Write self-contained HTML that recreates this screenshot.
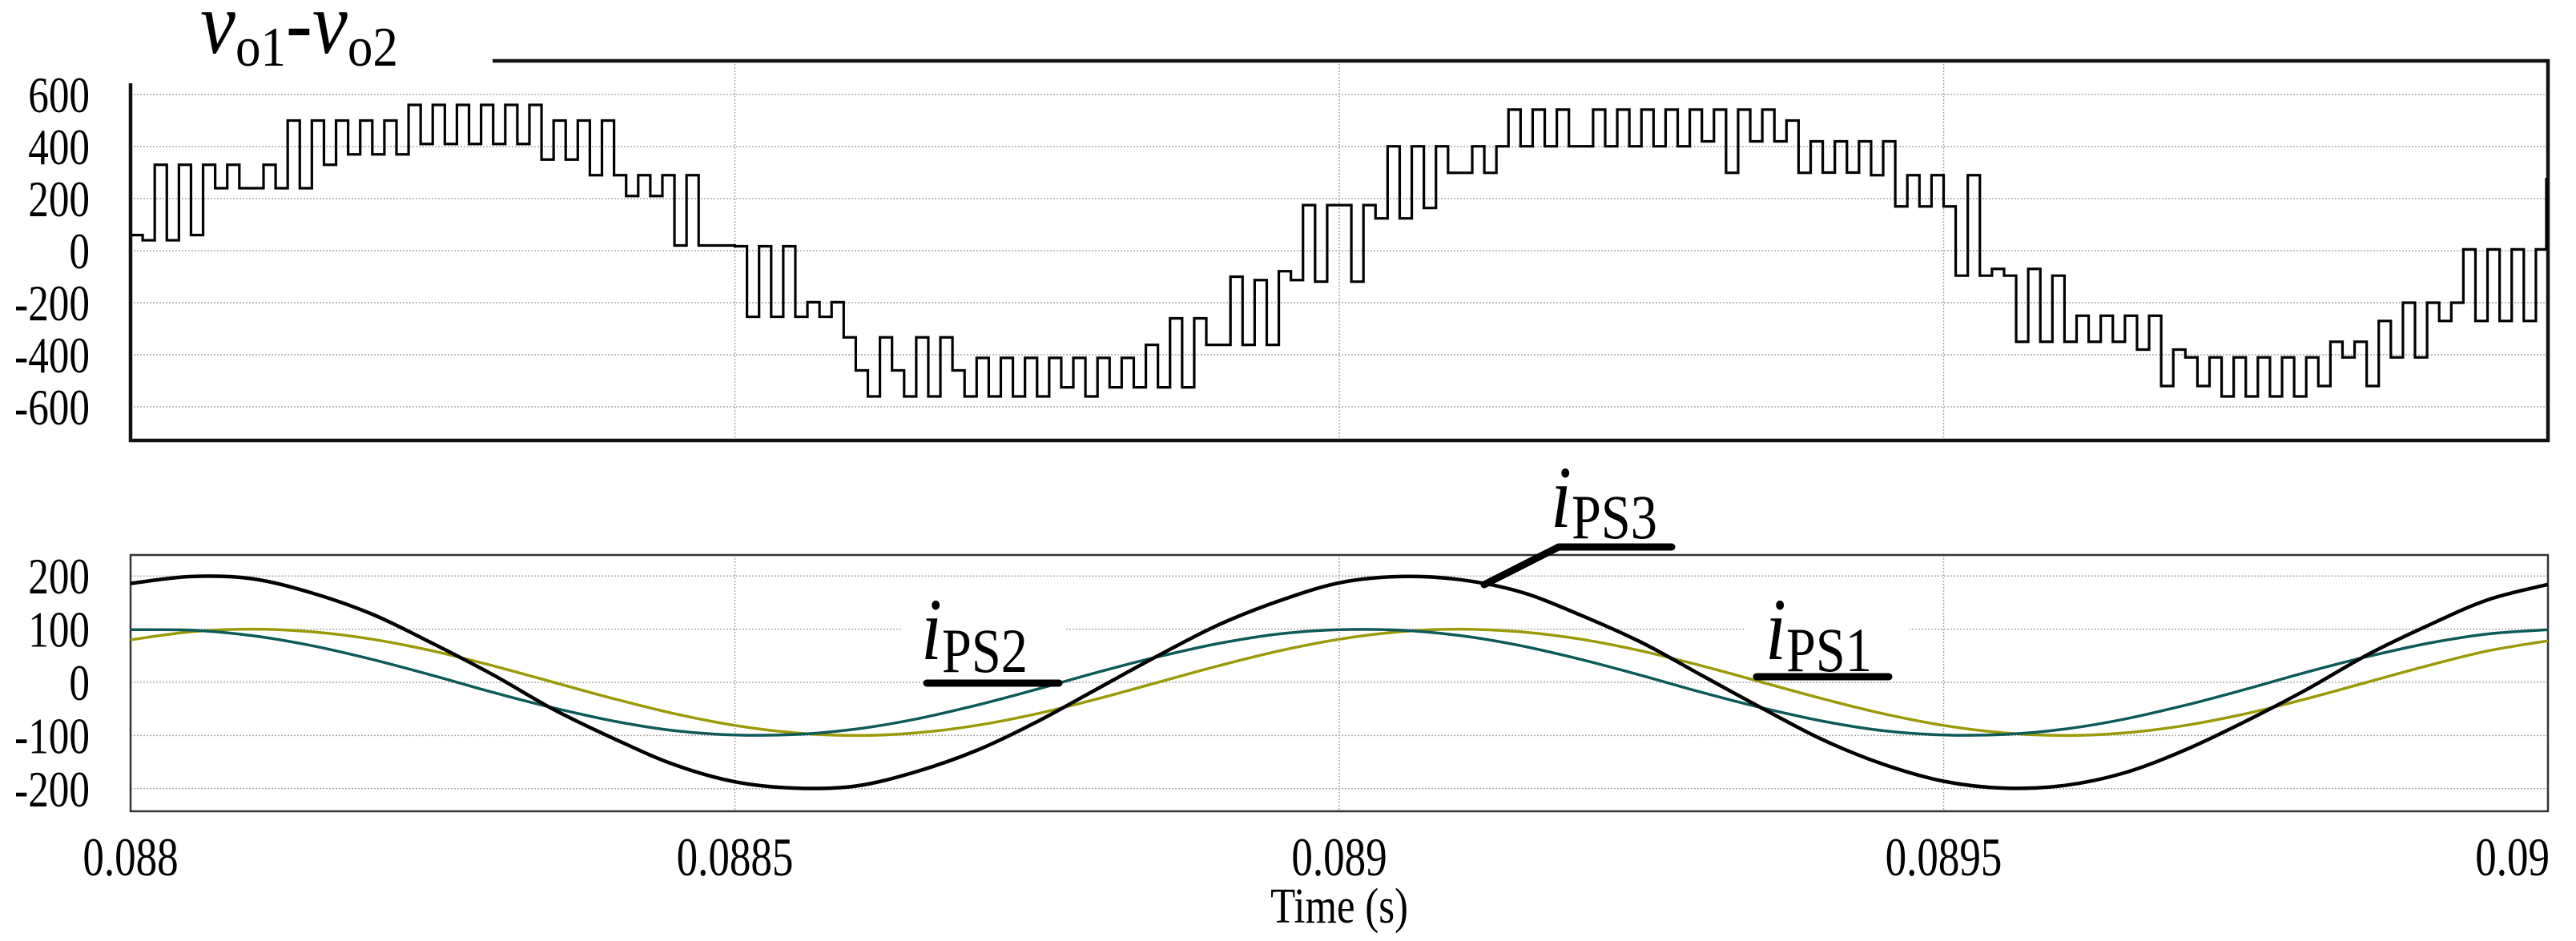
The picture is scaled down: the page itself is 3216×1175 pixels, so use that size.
<!DOCTYPE html>
<html><head><meta charset="utf-8"><style>
html,body{margin:0;padding:0;background:#fff;}
svg{display:block;font-family:"Liberation Serif",serif;}
</style></head><body>
<svg id="chart" width="3216" height="1175" viewBox="0 0 3216 1175" xmlns="http://www.w3.org/2000/svg">
<rect x="0" y="0" width="3216" height="1175" fill="#fff"/>
<g id="topPanel"></g>
<g id="botPanel"></g>
<g id="annPanel"></g>
</svg>
<script>
// ---- data ----
const tStart = 0.088, tEnd = 0.090;
const xTicks = [0.088, 0.0885, 0.089, 0.0895, 0.09];
const xTickLabels = ["0.088", "0.0885", "0.089", "0.0895", "0.09"];
const vTicks = [600, 400, 200, 0, -200, -400, -600];
const iTicks = [200, 100, 0, -100, -200];
// voltage step levels, one per 0.00001 s
const vStep = 0.00001;
const vLevels = [
60,40,330,40,330,60,330,240,330,240,
240,330,240,500,240,500,330,500,370,500,
370,500,370,560,410,560,410,560,410,560,
410,560,410,560,350,500,350,500,290,500,
290,210,290,210,290,20,290,20,20,20,
17,-254,17,-254,17,-254,-198,-254,-198,-333,
-460,-560,-333,-460,-560,-333,-560,-333,-460,-560,
-412,-560,-412,-560,-412,-560,-412,-525,-412,-560,
-412,-525,-412,-525,-362,-525,-260,-525,-260,-362,
-362,-100,-362,-113,-362,-79,-113,175,-119,175,
175,-119,175,124,401,124,401,164,401,299,
299,401,299,401,542,401,542,401,542,401,
401,542,401,542,401,542,401,542,401,542,
420,542,299,542,420,542,420,500,299,420,
300,420,300,420,290,420,170,290,170,290,
170,-96,290,-96,-70,-96,-350,-70,-350,-96,
-350,-250,-350,-250,-350,-250,-380,-250,-520,-380,
-410,-520,-410,-560,-410,-560,-410,-560,-410,-560,
-410,-520,-350,-410,-350,-520,-270,-410,-200,-410,
-200,-270,-200,5,-270,5,-270,5,-270,5,
280];
// currents sampled every 0.00005 s
const iStep = 0.00005;
const iPS3 = [186,199,195,168,128,73,14,-51,-106,-155,-187,-199,-195,-168,-128,-74,-12,50,108,153,187,199,193,170,126,75,13,-49,-108,-154,-186,-199,-194,-170,-127,-73,-14,51,106,155,184];
const iPS2 = [99,98,88,69,43,13,-19,-48,-73,-91,-99,-98,-88,-69,-43,-13,19,48,73,91,99,98,88,69,43,13,-19,-48,-73,-91,-99,-98,-88,-69,-43,-13,19,48,73,91,99];
const iPS1 = [80,95,100,95,81,59,31,0,-31,-59,-81,-95,-100,-95,-81,-59,-31,0,31,59,81,95,100,95,81,59,31,0,-31,-59,-81,-95,-100,-95,-81,-59,-31,0,31,59,78];

// ---- layout ----
const X0 = 163, X1 = 3181;
const xs = t => X0 + (t - tStart) / (tEnd - tStart) * (X1 - X0);
const yv = v => 313 - v * (195 / 600);
const yi = v => 852 - v * 0.664;
const NS = "http://www.w3.org/2000/svg";
function mk(tag, parent, attrs) {
  const e = document.createElementNS(NS, tag);
  for (const k in attrs) e.setAttribute(k, attrs[k]);
  parent.appendChild(e); return e;
}
function txt(parent, x, y, size, anchor, sx) {
  return mk('text', parent, {x: 0, y: 0, 'font-size': size, 'text-anchor': anchor, transform: `translate(${x} ${y}) scale(${sx} 1)`});
}
const topG = document.getElementById('topPanel'), botG = document.getElementById('botPanel'), annG = document.getElementById('annPanel');

// top grid
vTicks.forEach(v => {
  const l = mk('line', topG, {x1: X0, x2: X1, y1: yv(v), y2: yv(v), stroke: '#aaa', 'stroke-width': 1.5, 'stroke-dasharray': '2,2'});
  
  
  const tx = txt(topG, 112, yv(v) + 22, 64, 'end', 0.8);
  tx.textContent = v;
  
  
});
xTicks.slice(1, 4).forEach(t => {
  const l = mk('line', topG, {x1: xs(t), x2: xs(t), y1: 80, y2: 548, stroke: '#aaa', 'stroke-width': 1.5, 'stroke-dasharray': '2,2'});
  
  
  const l2 = mk('line', botG, {x1: xs(t), x2: xs(t), y1: 693, y2: 1013, stroke: '#aaa', 'stroke-width': 1.5, 'stroke-dasharray': '2,2'});
  
  
});
// top frame
let f = mk('path', topG, {d: `M615 76 H${X1} V550 H${X0} V104`, fill: 'none', stroke: '#111', 'stroke-width': 4.5});


// voltage waveform
let d = '';
vLevels.forEach((v, k) => {
  const x = xs(tStart + k * vStep), y = yv(v);
  d += (k === 0 ? `M${x} ${y}` : ` V${y}`) + ` H${Math.min(X1 - 2, xs(tStart + (k + 1) * vStep))}`;
});
let w = mk('path', topG, {d, fill: 'none', stroke: '#000', 'stroke-width': 3.2});


// title
let tt = txt(topG, 250, 66, 110, 'start', 0.9);
tt.setAttribute('font-style', 'italic');
tt.innerHTML = 'v<tspan font-size="70" font-style="normal" dy="16">o1</tspan><tspan font-style="normal" dy="-16">-</tspan>v<tspan font-size="70" font-style="normal" dy="16">o2</tspan>';



// bottom grid
iTicks.forEach(v => {
  const l = mk('line', botG, {x1: X0, x2: X1, y1: yi(v), y2: yi(v), stroke: '#aaa', 'stroke-width': 1.5, 'stroke-dasharray': '2,2'});
  
  
  const tx = txt(botG, 112, yi(v) + 22, 64, 'end', 0.8);
  tx.textContent = v;
  
  
});
xTicks.forEach((t, k) => {
  const last = k === xTicks.length - 1;
  const tx = txt(botG, last ? X1 + 2 : xs(t), 1093, 68, last ? 'end' : 'middle', 0.78);
  tx.textContent = xTickLabels[k];
  
  
});
let xt = txt(botG, xs(0.089), 1152, 62, 'middle', 0.82);
xt.textContent = 'Time (s)';


let bf = mk('rect', botG, {x: X0, y: 693, width: X1 - X0, height: 320, fill: 'none', stroke: '#333', 'stroke-width': 2.5});


// label backgrounds
[[1125, 760, 205, 60], [2179, 760, 205, 60]].forEach(r => {
  const b = mk('rect', botG, {x: r[0], y: r[1], width: r[2], height: r[3], fill: '#fff'});
  
  
});
function curve(arr, color, width, name) {
  const pts = arr.map((v, k) => [xs(tStart + k * iStep), yi(v)]);
  let p = `M${pts[0][0].toFixed(1)} ${pts[0][1].toFixed(1)}`;
  for (let k = 0; k < pts.length - 1; k++) {
    const p0 = pts[Math.max(0, k - 1)], p1 = pts[k], p2 = pts[k + 1], p3 = pts[Math.min(pts.length - 1, k + 2)];
    const c1 = [p1[0] + (p2[0] - p0[0]) / 6, p1[1] + (p2[1] - p0[1]) / 6];
    const c2 = [p2[0] - (p3[0] - p1[0]) / 6, p2[1] - (p3[1] - p1[1]) / 6];
    p += ` C${c1[0].toFixed(1)} ${c1[1].toFixed(1)} ${c2[0].toFixed(1)} ${c2[1].toFixed(1)} ${p2[0].toFixed(1)} ${p2[1].toFixed(1)}`;
  }
  const e = mk('path', botG, {d: p, fill: 'none', stroke: color, 'stroke-width': width, 'stroke-linejoin': 'round'});
  
  
}
curve(iPS1, '#9a9a08', 3.5, 'ips1-line');
curve(iPS2, '#0e5a58', 3.5, 'ips2-line');
curve(iPS3, '#000', 4.5, 'ips3-line');

// annotations
function label(x, yi0, ys, sub, name) {
  const t = txt(annG, x, yi0, 110, 'start', 0.85);
  t.setAttribute('font-style', 'italic');
  t.innerHTML = `i<tspan font-size="78" font-style="normal" dy="${ys - yi0}">${sub}</tspan>`;
  
  
}
label(1150, 823, 839, 'PS2', 'ips2-label');
label(2204, 823, 838, 'PS1', 'ips1-label');
label(1936, 658, 672, 'PS3', 'ips3-label');
[['M1157 853 H1322', 'ips2-underline'], ['M2193 845 H2358', 'ips1-underline'], ['M1853 730 L1946 683 H2087', 'ips3-leader']].forEach(a => {
  const e = mk('path', annG, {d: a[0], fill: 'none', stroke: '#000', 'stroke-width': 9, 'stroke-linecap': 'round', 'stroke-linejoin': 'round'});
  
  
});
</script>
</body></html>
